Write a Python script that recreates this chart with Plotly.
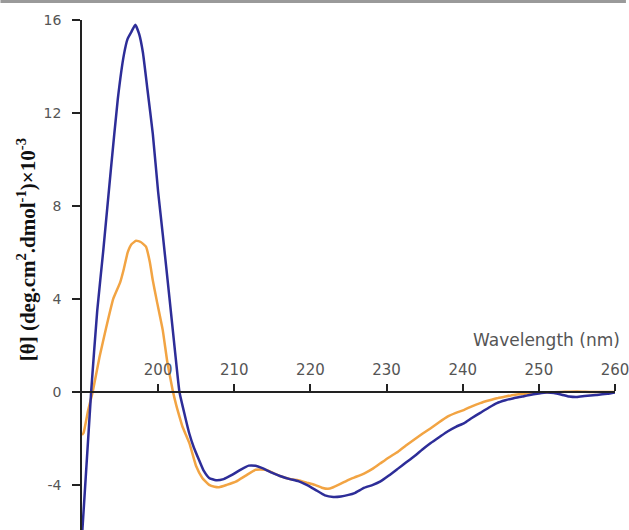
import plotly.graph_objects as go

# Wavelength (nm) and mean residue ellipticity (x10^-3 deg.cm2.dmol-1)
wl_blue = [190.0, 191.2, 192.0, 192.8, 193.8, 194.7, 195.5, 196.0, 196.5, 197.0, 197.5, 198.0,
           198.6, 199.3, 200.0, 200.6, 201.5, 202.2, 202.8, 203.5, 204.1, 204.7, 205.4, 206.0,
           206.7, 207.6, 208.6, 209.7, 210.8, 211.9, 212.8, 213.6, 215.0, 216.2, 217.3, 218.4,
           219.5, 220.6, 221.9, 223.0, 224.0, 225.0, 225.8, 227.1, 228.2, 229.2, 230.3, 231.5,
           232.5, 233.6, 234.7, 235.8, 236.9, 238.0, 239.1, 240.2, 241.2, 242.3, 243.4, 244.5,
           245.6, 246.7, 247.8, 248.8, 250.0, 251.0, 252.0, 253.0, 254.0, 255.0, 256.0, 257.5,
           259.0, 260.0]
theta_blue = [-6.2, 0.0, 3.5, 6.1, 9.6, 12.6, 14.5, 15.2, 15.5, 15.8, 15.4, 14.6,
              13.0, 11.1, 8.6, 6.8, 4.0, 1.8, 0.0, -1.0, -1.8, -2.4, -2.95, -3.4,
              -3.7, -3.8, -3.75, -3.57, -3.35, -3.17, -3.18, -3.27, -3.48, -3.64, -3.75, -3.84,
              -4.0, -4.2, -4.45, -4.52, -4.5, -4.43, -4.35, -4.12, -4.0, -3.85, -3.6, -3.3,
              -3.05, -2.78, -2.48, -2.2, -1.95, -1.7, -1.5, -1.34, -1.12, -0.9, -0.68, -0.48,
              -0.36, -0.27, -0.2, -0.13, -0.07, -0.03, -0.05, -0.12, -0.2, -0.22, -0.18, -0.13,
              -0.08, -0.02]

wl_orange = [190.0, 190.2, 190.8, 191.4, 192.3, 193.2, 194.1, 195.0, 195.5, 196.0, 196.5, 197.1,
             197.7, 198.4, 198.9, 199.3, 199.8, 200.6, 201.2, 201.9, 202.4, 202.8, 203.2, 204.1,
             205.0, 205.8, 206.7, 207.4, 208.0, 209.0, 210.2, 211.5, 212.8, 214.1, 215.2, 216.2,
             217.3, 218.4, 219.5, 220.6, 221.5, 222.3, 223.0, 224.0, 225.0, 226.0, 227.1, 228.2,
             229.2, 230.3, 231.5, 232.5, 233.6, 234.7, 235.8, 236.9, 238.0, 239.1, 240.2, 241.2,
             242.3, 243.4, 244.5, 245.6, 246.7, 248.8, 251.0, 253.0, 255.0, 257.0, 260.0]
theta_orange = [-1.85, -1.77, -0.8, 0.0, 1.5, 2.8, 4.0, 4.7, 5.3, 6.0, 6.35, 6.5,
                6.45, 6.25, 5.6, 4.8, 3.96, 2.67, 1.3, 0.08, -0.6, -1.06, -1.5, -2.2,
                -3.2, -3.7, -4.0, -4.08, -4.1, -4.0, -3.86, -3.6, -3.35, -3.35, -3.5, -3.64,
                -3.75, -3.8, -3.9, -4.0, -4.12, -4.17, -4.1, -3.95, -3.78, -3.65, -3.5, -3.3,
                -3.07, -2.82, -2.57, -2.32, -2.06, -1.8, -1.56, -1.3, -1.06, -0.9, -0.77, -0.62,
                -0.48, -0.37, -0.27, -0.2, -0.13, -0.06, -0.02, 0.0, 0.02, 0.0, 0.0]

x_ticks = [200, 210, 220, 230, 240, 250, 260]
y_ticks = [-4, 0, 4, 8, 12, 16]
y_tick_labels = ["-4", "0", "4", "8", "12", "16"]

x_range = [190, 260]
y_range = [-5.94, 16]

fig = go.Figure()
fig.add_trace(go.Scatter(x=wl_orange, y=theta_orange, mode="lines",
                         line=dict(color="#f2a443", width=2.5, shape="spline", smoothing=0.4),
                         showlegend=False))
fig.add_trace(go.Scatter(x=wl_blue, y=theta_blue, mode="lines",
                         line=dict(color="#2d2d98", width=2.5, shape="spline", smoothing=0.4),
                         showlegend=False))

zero_pos = (0 - y_range[0]) / (y_range[1] - y_range[0])

fig.update_layout(
    width=629, height=530,
    margin=dict(l=82, r=11, t=20, b=0),
    paper_bgcolor="white", plot_bgcolor="white",
    xaxis=dict(range=x_range, tickvals=x_ticks, anchor="free", position=zero_pos,
               side="top", ticks="outside", ticklen=7, tickwidth=1.5, tickcolor="#222",
               showline=True, linecolor="#222", linewidth=1.5, showgrid=False, zeroline=False,
               tickfont=dict(family="DejaVu Sans", size=15, color="#555"),
               ticklabelstandoff=3, ticklabeloverflow="allow"),
    yaxis=dict(range=y_range, tickvals=y_ticks, ticktext=y_tick_labels, ticks="outside",
               ticklen=8, tickwidth=1.5,
               tickcolor="#222", showline=True, linecolor="#222", linewidth=1.5,
               showgrid=False, zeroline=False,
               tickfont=dict(family="DejaVu Sans", size=14, color="#555"),
               ticklabelstandoff=8),
    annotations=[
        dict(text="Wavelength (nm)", x=251.0, y=2.25, xref="x", yref="y",
             showarrow=False, xanchor="center", yanchor="middle",
             font=dict(family="DejaVu Sans", size=17, color="#555")),
        dict(text="<b>[θ] (deg.cm<sup>2</sup>.dmol<sup>-1</sup>)×10<sup>-3</sup></b>",
             x=(27 - 82) / 536, y=(530 - 250) / 510, xref="paper", yref="paper",
             showarrow=False, textangle=-90, xanchor="center", yanchor="middle",
             font=dict(family="Liberation Serif", size=21, color="#111")),
    ],
    shapes=[dict(type="line", xref="paper", yref="paper", x0=-82 / 536, x1=1 + 11 / 536,
                 y0=1 + 18.5 / 510, y1=1 + 18.5 / 510, line=dict(color="#9a9a9a", width=3))],
)

fig.write_html("out.html")
